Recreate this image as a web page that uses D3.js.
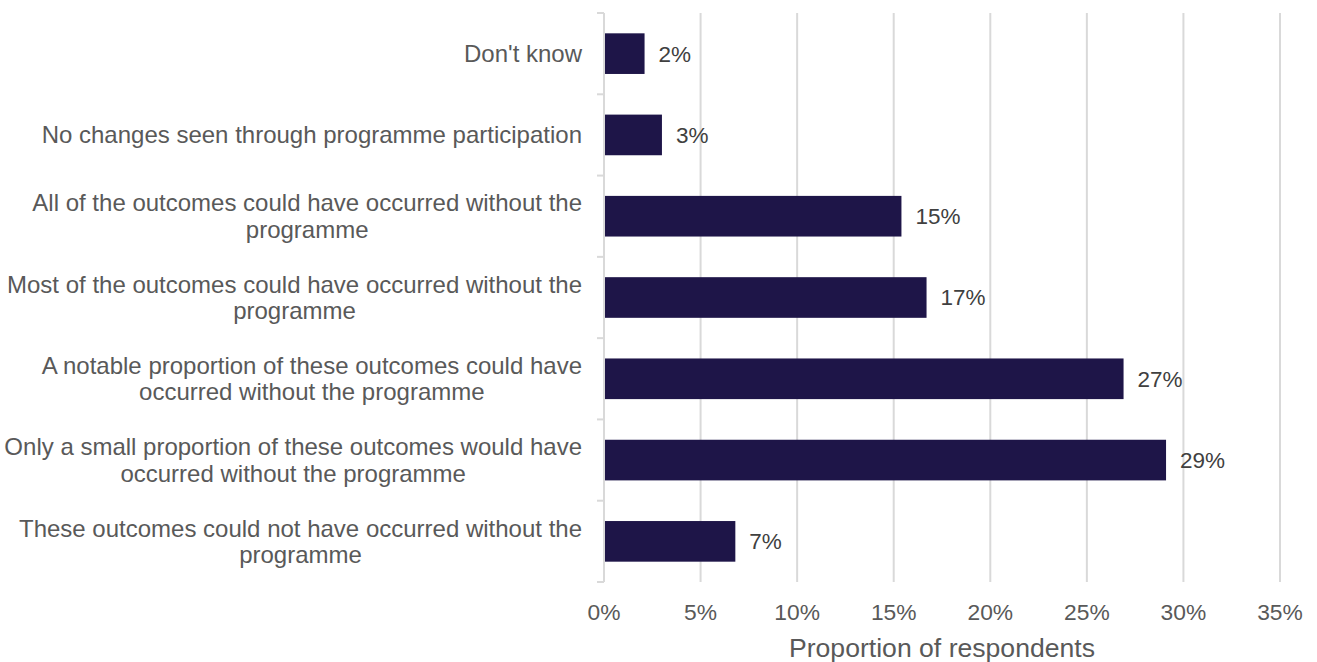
<!DOCTYPE html>
<html>
<head>
<meta charset="utf-8">
<script src="https://cdn.jsdelivr.net/npm/d3@7"></script>
<style>
  html, body { margin: 0; padding: 0; background: #ffffff; }
  svg { display: block; font-family: "Liberation Sans", Arial, sans-serif; }
</style>
</head>
<body>
<svg id="chart" width="1317" height="662"></svg>
<script>
// Survey responses, top to bottom
const categories = [
  ["Don't know"],
  ["No changes seen through programme participation"],
  ["All of the outcomes could have occurred without the", "programme"],
  ["Most of the outcomes could have occurred without the", "programme"],
  ["A notable proportion of these outcomes could have", "occurred without the programme"],
  ["Only a small proportion of these outcomes would have", "occurred without the programme"],
  ["These outcomes could not have occurred without the", "programme"]
];
const values = [0.021, 0.030, 0.154, 0.167, 0.269, 0.291, 0.068];
const xTicks = [0, 0.05, 0.10, 0.15, 0.20, 0.25, 0.30, 0.35];
const axisTitle = "Proportion of respondents";

const svg = d3.select("#chart");
const margin = { left: 604, right: 37, top: 13, bottom: 80 };
const W = 1317, H = 662;

const x = d3.scaleLinear().domain([0, 0.35]).range([margin.left, W - margin.right]);
const y = d3.scaleBand()
  .domain(d3.range(categories.length))
  .range([margin.top, H - margin.bottom])
  .paddingInner(0.5).paddingOuter(0.25);

const fmt = d3.format(".0%");
const grid = "#d9d9d9";

// vertical gridlines
svg.append("g")
  .selectAll("line")
  .data(xTicks.slice(1))
  .join("line")
  .attr("x1", d => x(d)).attr("x2", d => x(d))
  .attr("y1", margin.top).attr("y2", H - margin.bottom)
  .attr("stroke", grid).attr("stroke-width", 2);

// category axis with ticks between bands
const step = y.step();
const bandEdges = d3.range(categories.length + 1).map(i => margin.top + i * step);
const yAxis = svg.append("g");
yAxis.append("line")
  .attr("x1", margin.left).attr("x2", margin.left)
  .attr("y1", margin.top).attr("y2", H - margin.bottom)
  .attr("stroke", grid).attr("stroke-width", 2);
yAxis.selectAll("line.tick")
  .data(bandEdges)
  .join("line")
  .attr("class", "tick")
  .attr("x1", margin.left - 7).attr("x2", margin.left)
  .attr("y1", d => d).attr("y2", d => d)
  .attr("stroke", grid).attr("stroke-width", 2);

// bars
svg.append("g")
  .selectAll("rect")
  .data(values)
  .join("rect")
  .attr("x", x(0) + 1)
  .attr("y", (d, i) => y(i))
  .attr("width", d => x(d) - x(0) - 1)
  .attr("height", y.bandwidth())
  .attr("fill", "#1e1548");

// value labels
svg.append("g")
  .selectAll("text")
  .data(values)
  .join("text")
  .attr("x", d => x(d) + 14)
  .attr("y", (d, i) => y(i) + y.bandwidth() / 2)
  .attr("dy", "0.35em")
  .attr("font-size", 22.5)
  .attr("fill", "#404040")
  .text(d => fmt(d));

// category labels: block right-aligned, lines centred within block
const labelRight = 582;
const lineH = 26.5;
const labels = svg.append("g");
categories.forEach((lines, i) => {
  const g = labels.append("g");
  const cy = y(i) + y.bandwidth() / 2;
  const texts = lines.map((ln, j) => g.append("text")
    .attr("font-size", 24)
    .attr("fill", "#595959")
    .attr("text-anchor", "middle")
    .attr("dy", "0.35em")
    .attr("y", cy + (j - (lines.length - 1) / 2) * lineH)
    .text(ln));
  const maxW = d3.max(texts, t => t.node().getComputedTextLength());
  texts.forEach(t => t.attr("x", labelRight - maxW / 2));
});

// x axis tick labels
svg.append("g")
  .selectAll("text")
  .data(xTicks)
  .join("text")
  .attr("x", d => x(d))
  .attr("y", 612)
  .attr("dy", "0.35em")
  .attr("text-anchor", "middle")
  .attr("font-size", 22.8)
  .attr("fill", "#595959")
  .text(d => fmt(d));

// axis title
svg.append("text")
  .attr("x", (x(0) + x(0.35)) / 2)
  .attr("y", 648)
  .attr("dy", "0.35em")
  .attr("text-anchor", "middle")
  .attr("font-size", 26.6)
  .attr("fill", "#595959")
  .text(axisTitle);
</script>
</body>
</html>
